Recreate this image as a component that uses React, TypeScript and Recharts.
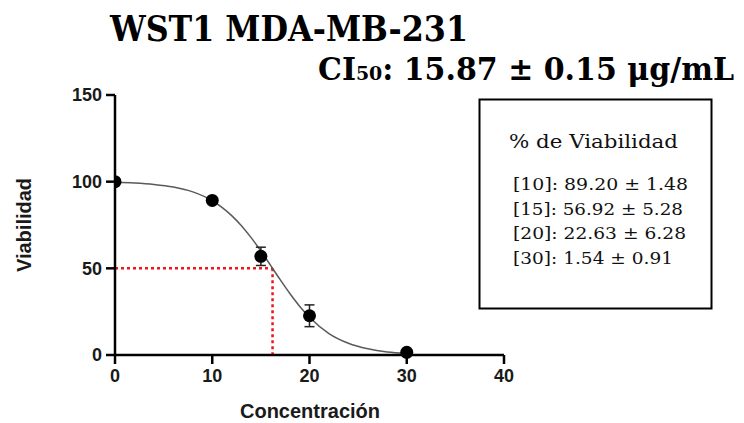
import React from 'react';
import { ComposedChart, Line, Scatter, ErrorBar, XAxis, YAxis, ReferenceLine } from 'recharts';

// puntos medidos (concentración en µg/mL)
const concentracion = [0, 10, 15, 20, 30];
const viabilidad = [100, 89.2, 56.92, 22.63, 1.54];
const desviacion = [0, 1.48, 5.28, 6.28, 0.91];

// curva ajustada
const curvaX = [0, 2, 4, 6, 8, 10, 11, 12, 13, 14, 15, 16, 17, 18, 19, 20, 22, 24, 26, 28, 30];
const curvaY = [99.6, 99.2, 98.4, 96.9, 94.1, 89.0, 85.2, 80.4, 74.6, 67.7, 60.0, 51.7, 43.3, 35.3, 28.0, 21.8, 12.4, 6.8, 3.6, 1.8, 1.0];

const xTicks = [0, 10, 20, 30, 40];
const yTicks = [0, 50, 100, 150];
const ci50Marca = 16.2;

const resumen = [
  '[10]: 89.20 ± 1.48',
  '[15]: 56.92 ± 5.28',
  '[20]: 22.63 ± 6.28',
  '[30]: 1.54 ± 0.91',
];
const resumenAncho = [175, 170, 173, 160];

const puntos = concentracion.map((x, i) => ({ x, y: viabilidad[i], err: desviacion[i] }));
const curva = curvaX.map((x, i) => ({ x, y: curvaY[i] }));

const tickStyle = { fill: '#1a1a1a', fontSize: 18, fontWeight: 700, fontFamily: 'Liberation Sans, Arial, sans-serif' };

export default function App() {
  return (
    <div style={{ position: 'fixed', left: 0, top: 0, width: 744, height: 423, background: '#fff' }}>
      <ComposedChart width={744} height={423} margin={{ top: 95, right: 240, left: 0, bottom: 0 }}>
        <XAxis
          dataKey="x"
          type="number"
          domain={[0, 40]}
          ticks={xTicks}
          height={68}
          stroke="#000"
          strokeWidth={2.5}
          tickSize={9}
          tickMargin={5}
          tick={tickStyle}
          allowDataOverflow
        />
        <YAxis
          dataKey="y"
          type="number"
          domain={[0, 150]}
          ticks={yTicks}
          width={115}
          stroke="#000"
          strokeWidth={2.5}
          tickSize={9}
          tickMargin={4}
          tick={tickStyle}
        />
        <ReferenceLine
          segment={[{ x: 0, y: 50 }, { x: ci50Marca, y: 50 }]}
          stroke="#f0141b"
          strokeWidth={2.5}
          strokeDasharray="3 3"
        />
        <ReferenceLine
          segment={[{ x: ci50Marca, y: 50 }, { x: ci50Marca, y: 0 }]}
          stroke="#f0141b"
          strokeWidth={2.5}
          strokeDasharray="3 3"
        />
        <Line
          data={curva}
          dataKey="y"
          type="monotone"
          stroke="#5a5a5a"
          strokeWidth={1.5}
          dot={false}
          activeDot={false}
          isAnimationActive={false}
        />
        <Scatter
          data={puntos}
          dataKey="y"
          fill="#000"
          shape={(p: any) => <circle cx={p.cx} cy={p.cy} r={6.5} fill="#000" />}
          isAnimationActive={false}
        >
          <ErrorBar dataKey="err" direction="y" width={5} stroke="#222" strokeWidth={1.5} />
        </Scatter>
      </ComposedChart>

      <svg width={744} height={423} style={{ position: 'absolute', left: 0, top: 0, pointerEvents: 'none' }}>
        <text x={110} y={41} fontFamily="DejaVu Serif Condensed, DejaVu Serif" fontWeight={700} fontSize={36}
          style={{ fontStretch: 'condensed' }} textLength={358} lengthAdjust="spacingAndGlyphs" fill="#000">
          WST1 MDA-MB-231
        </text>
        <text x={318} y={80} fontFamily="DejaVu Serif Condensed, DejaVu Serif" fontWeight={700} fontSize={32}
          style={{ fontStretch: 'condensed' }} textLength={416} lengthAdjust="spacingAndGlyphs" fill="#000">
          CI₅₀: 15.87 ± 0.15 μg/mL
        </text>

        <text x={24} y={225} transform="rotate(-90 24 225)" textAnchor="middle" dominantBaseline="central"
          fontFamily="Liberation Sans, Arial, sans-serif" fontWeight={700} fontSize={20} fill="#1a1a1a">
          Viabilidad
        </text>
        <text x={310} y={418} textAnchor="middle"
          fontFamily="Liberation Sans, Arial, sans-serif" fontWeight={700} fontSize={20} fill="#1a1a1a">
          Concentración
        </text>

        <rect x={479.5} y={99.5} width={232} height={209} fill="#fff" stroke="#000" strokeWidth={2} />
        <text x={509} y={148} fontFamily="DejaVu Serif" fontSize={19} textLength={169} lengthAdjust="spacingAndGlyphs" fill="#111">
          % de Viabilidad
        </text>
        {resumen.map((linea, i) => (
          <text key={linea} x={513} y={190 + i * 24.7} fontFamily="DejaVu Serif" fontSize={17.5}
            textLength={resumenAncho[i]} lengthAdjust="spacingAndGlyphs" fill="#111">
            {linea}
          </text>
        ))}
      </svg>
    </div>
  );
}
